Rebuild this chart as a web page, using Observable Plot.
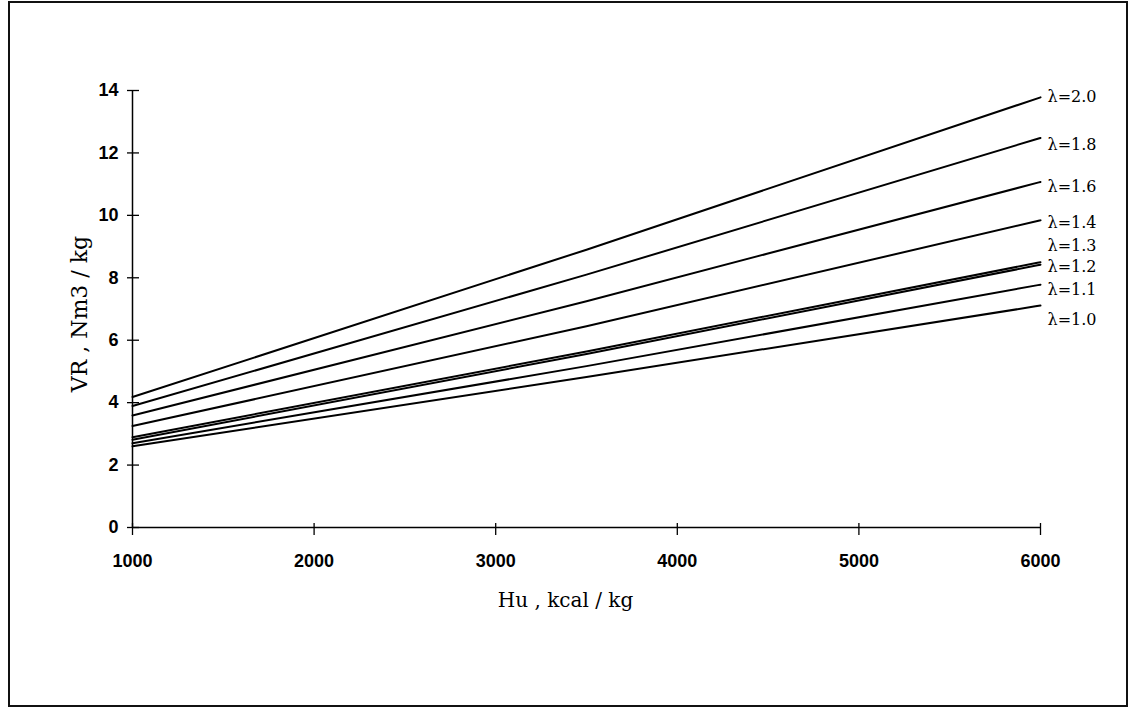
<!DOCTYPE html>
<html>
<head>
<meta charset="utf-8">
<script src="https://cdn.jsdelivr.net/npm/d3@7"></script>
<script src="https://cdn.jsdelivr.net/npm/@observablehq/plot@0.6"></script>
<style>
  html, body { margin: 0; padding: 0; background: #fff; }
  #wrap { position: relative; width: 1134px; height: 712px; overflow: hidden; }
  #frame { position: absolute; left: 8px; top: 1px; width: 1116px; height: 702px; border: 2px solid #111; box-sizing: content-box; pointer-events: none; }
  #chart { position: absolute; left: 0; top: 0; }
</style>
</head>
<body>
<div id="wrap"><div id="chart"></div><div id="frame"></div></div>
<script>
// Data
const hu = [1000, 3500, 6000];                       // Hu, kcal/kg
const lambdas = ["1.0", "1.1", "1.2", "1.3", "1.4", "1.6", "1.8", "2.0"];
const vr10 = [2.60, 4.82, 7.11];
const vr11 = [2.70, 5.17, 7.78];
const vr12 = [2.81, 5.56, 8.42];
const vr13 = [2.89, 5.64, 8.50];
const vr14 = [3.25, 6.45, 9.84];
const vr16 = [3.59, 7.25, 11.07];
const vr18 = [3.89, 8.10, 12.48];
const vr20 = [4.18, 8.90, 13.78];
const labelVR = [6.64, 7.60, 8.34, 9.01, 9.75, 10.90, 12.26, 13.78]; // where the λ labels sit
const xTicks = [1000, 2000, 3000, 4000, 5000, 6000];
const yTicks = [0, 2, 4, 6, 8, 10, 12, 14];

const series = [vr10, vr11, vr12, vr13, vr14, vr16, vr18, vr20];
const rows = [];
series.forEach((vals, i) => vals.forEach((v, j) => rows.push({lambda: lambdas[i], hu: hu[j], vr: v})));
const labels = lambdas.map((l, i) => ({text: "\u03bb=" + l, hu: 6000, vr: labelVR[i]}));

const sans = "'Liberation Sans', Arial, sans-serif";
const serif = "'DejaVu Serif', serif";

const plot = Plot.plot({
  width: 1134,
  height: 712,
  marginLeft: 132,
  marginRight: 94,
  marginTop: 90,
  marginBottom: 185,
  style: {background: "transparent", color: "#000", fontFamily: sans},
  x: {domain: [1000, 6000]},
  y: {domain: [0, 14]},
  marks: [
    Plot.ruleX([1000], {y1: 0, y2: 14, stroke: "#000", strokeWidth: 1.5}),
    Plot.ruleY([0], {x1: 1000, x2: 6000, stroke: "#000", strokeWidth: 1.5}),
    // tick marks crossing the axes
    Plot.axisY({ticks: yTicks, tickSize: 12, dx: 7, fill: "none", stroke: "#000", strokeWidth: 1.3, label: null}),
    Plot.axisX({ticks: xTicks, tickSize: 12, dy: -4, fill: "none", stroke: "#000", strokeWidth: 1.3, label: null}),
    // tick labels
    Plot.axisY({ticks: yTicks, tickSize: 0, tickPadding: 14, fontSize: 18, fontWeight: "bold", fontFamily: sans, fill: "#000", tickFormat: d3.format("d"), label: null}),
    Plot.axisX({ticks: xTicks, tickSize: 0, tickPadding: 27, fontSize: 18, fontWeight: "bold", fontFamily: sans, fill: "#000", tickFormat: d3.format("d"), label: null}),
    // series
    Plot.line(rows, {x: "hu", y: "vr", z: "lambda", stroke: "#000", strokeWidth: 2, curve: "monotone-x"}),
    Plot.text(labels, {x: "hu", y: "vr", text: "text", textAnchor: "start", dx: 7, fontSize: 16, fontFamily: serif, fill: "#000"}),
    // axis titles
    Plot.text(["Hu , kcal / kg"], {frameAnchor: "bottom", textAnchor: "middle", lineAnchor: "middle", dx: -21, dy: 73, fontSize: 20, fontFamily: serif, fill: "#000"}),
    Plot.text(["VR , Nm3 / kg"], {frameAnchor: "left", textAnchor: "middle", lineAnchor: "middle", rotate: -90, dx: -53, dy: 5, fontSize: 22, fontFamily: serif, fill: "#000"})
  ]
});
document.getElementById("chart").appendChild(plot);
</script>
</body>
</html>
